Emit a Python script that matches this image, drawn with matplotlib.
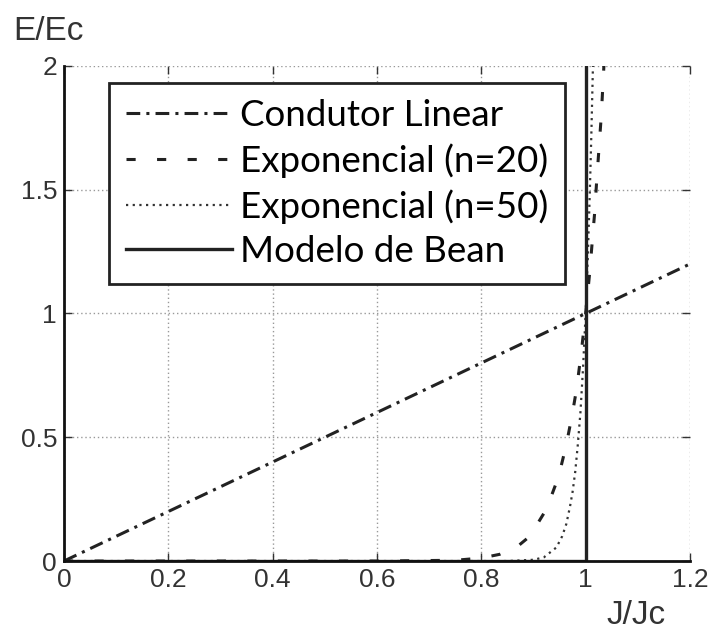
import numpy as np
import matplotlib.pyplot as plt

# values (J/Jc, E/Ec)
j_lin = [0.0, 1.2]
e_lin = [0.0, 1.2]

j_n20 = [0.0, 0.6, 0.75, 0.8, 0.835, 0.87, 0.893, 0.925, 0.948, 0.963, 0.975,
         0.983, 0.992, 1.0, 1.008, 1.013, 1.017, 1.021, 1.025, 1.03, 1.035]
e_n20 = [0.0, 0.0, 0.003, 0.012, 0.027, 0.06, 0.1, 0.21, 0.34, 0.47, 0.6,
         0.7, 0.85, 1.0, 1.17, 1.3, 1.4, 1.53, 1.65, 1.8, 2.0]

j_n50 = [0.0, 0.85, 0.9, 0.92, 0.944, 0.955, 0.963, 0.97, 0.975, 0.98, 0.985,
         0.99, 0.995, 1.0, 1.004, 1.008, 1.011, 1.014]
e_n50 = [0.0, 0.0, 0.005, 0.015, 0.055, 0.1, 0.15, 0.22, 0.28, 0.36, 0.47,
         0.6, 0.78, 1.0, 1.22, 1.49, 1.73, 2.0]

j_bean = [0.0, 1.0, 1.0]
e_bean = [0.0, 0.0, 2.0]

labels = ["Condutor Linear", "Exponencial (n=20)", "Exponencial (n=50)", "Modelo de Bean"]
xticks = [0, 0.2, 0.4, 0.6, 0.8, 1, 1.2]
xticklabels = ["0", "0.2", "0.4", "0.6", "0.8", "1", "1.2"]
yticks = [0, 0.5, 1, 1.5, 2]
yticklabels = ["0", "0.5", "1", "1.5", "2"]

plt.rcParams['font.family'] = ['Liberation Sans', 'DejaVu Sans']

fig = plt.figure(figsize=(7.15, 6.4), dpi=100)
ax = fig.add_axes([0.0895, 0.1234, 0.8755, 0.7736])

ax.plot(j_lin, e_lin, color='#222222', lw=2.2, ls=(0, (4.5, 2, 1, 2)), label=labels[0])
ax.plot(j_n20, e_n20, color='#222222', lw=2.2, ls=(0, (3, 7)), label=labels[1])
ax.plot(j_n50, e_n50, color='#333333', lw=1.6, ls=(0, (1, 2)), label=labels[2])
ax.plot(j_bean, e_bean, color='#222222', lw=2.4, ls='-', label=labels[3])

ax.set_xlim(0, 1.2)
ax.set_ylim(0, 2)
ax.set_xticks(xticks)
ax.set_xticklabels(xticklabels)
ax.set_yticks(yticks)
ax.set_yticklabels(yticklabels)
ax.tick_params(direction='in', top=True, right=True, length=6, width=1,
               labelsize=19, colors='#333333', labelcolor='#333333', pad=5)
ax.grid(True, color='#999999', ls=(0, (1, 2)), lw=1)
for s in ['top', 'right']:
    ax.spines[s].set_visible(False)
for s in ['left', 'bottom']:
    ax.spines[s].set_linewidth(2)
    ax.spines[s].set_color('#111111')

leg = ax.legend(loc='upper left', bbox_to_anchor=(0.072, 0.966), borderaxespad=0,
                fancybox=False, framealpha=1, edgecolor='#222222',
                prop={'family': 'Lato', 'size': 26.5}, handlelength=2.9,
                handletextpad=0.2, labelspacing=0.3, borderpad=0.45)
leg.get_frame().set_linewidth(2)

fig.text(0.018, 0.95, "E/Ec", fontsize=24, color='#333333', va='center', ha='left')
fig.text(0.889, 0.039, "J/Jc", fontsize=24, color='#333333', va='center', ha='center')

fig.savefig("out.png", dpi=100)
